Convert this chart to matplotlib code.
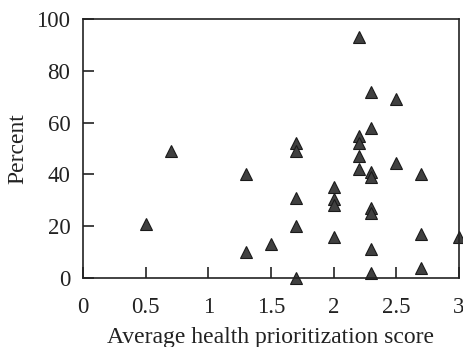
import matplotlib
matplotlib.use("Agg")
import matplotlib.pyplot as plt

# Values
score = [0.5, 0.7, 1.3, 1.3, 1.5,
         1.7, 1.7, 1.7, 1.7, 1.7,
         2.0, 2.0, 2.0, 2.0,
         2.2, 2.2, 2.2, 2.2, 2.2,
         2.3, 2.3, 2.3, 2.3, 2.3, 2.3, 2.3, 2.3,
         2.5, 2.5,
         2.7, 2.7, 2.7,
         3.0]
percent = [21, 49, 40, 10, 13,
           52, 49, 31, 20, 0,
           35, 30.5, 28, 16,
           93, 55, 52, 47, 42,
           72, 58, 41, 39, 27, 25, 11, 2,
           69, 44.5,
           40, 17, 4,
           16]

xticks = [0, 0.5, 1, 1.5, 2, 2.5, 3]
xticklabels = ["0", "0.5", "1", "1.5", "2", "2.5", "3"]
yticks = [0, 20, 40, 60, 80, 100]

plt.rcParams["font.family"] = ["Liberation Serif", "DejaVu Serif"]

fig = plt.figure(figsize=(4.63, 3.47), dpi=100)
ax = fig.add_axes([0.179, 0.199, 0.812, 0.746])

ax.plot(score, percent, linestyle="none", marker="^", markersize=8,
        markerfacecolor="#404040", markeredgecolor="#1a1a1a", markeredgewidth=0.8,
        clip_on=False)

ax.set_xlim(0, 3)
ax.set_ylim(0, 100)
ax.set_xticks(xticks)
ax.set_xticklabels(xticklabels)
ax.set_yticks(yticks)
ax.tick_params(direction="in", length=8, width=1.2, labelsize=16.5, colors="#222222")
ax.tick_params(axis="x", pad=14)
ax.tick_params(axis="y", pad=9)
for s in ax.spines.values():
    s.set_linewidth(1.2)
    s.set_color("#222222")

ax.set_xlabel("Average health prioritization score", fontsize=17, color="#222222", labelpad=6)
ax.set_ylabel("Percent", fontsize=17, color="#222222", labelpad=6)

fig.savefig("out.png", dpi=100)
